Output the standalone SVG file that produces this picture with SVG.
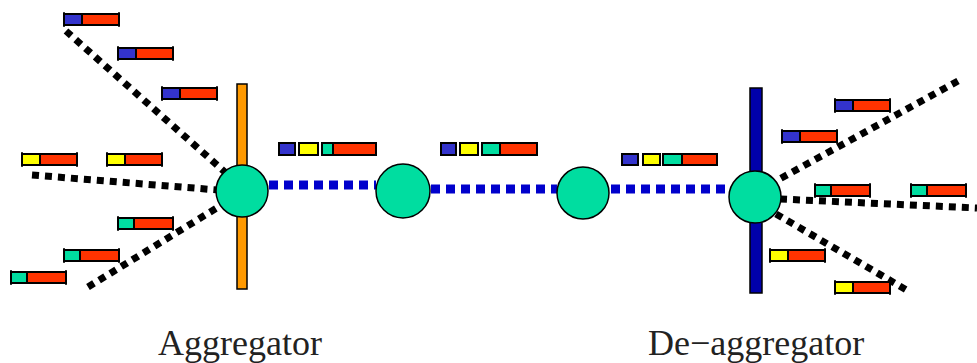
<svg xmlns="http://www.w3.org/2000/svg" xmlns:xlink="http://www.w3.org/1999/xlink" width="977" height="363" viewBox="0 0 977 363">
<style>
.blk{stroke:#000;stroke-width:7;stroke-dasharray:7 6;fill:none}
.blu{stroke:#0000cc;stroke-width:9;stroke-dasharray:9 6;fill:none}
.node{fill:#00dda0;stroke:#000;stroke-width:1.5}
.red{fill:#ff3300;stroke:#000;stroke-width:2}
.hb{fill:#3333cc;stroke:#000;stroke-width:2}
.hy{fill:#ffff00;stroke:#000;stroke-width:2}
.hg{fill:#00dda0;stroke:#000;stroke-width:2}
.tick{stroke:#000;stroke-width:1.5}
.lbl{font-family:"Liberation Serif","Times New Roman",serif;font-size:36px;fill:#222}
</style>
<defs>
<g id="pB"><rect class="red" x="0" y="0" width="55" height="11"/><rect class="hb" x="0" y="0" width="18" height="11"/><path class="tick" d="M0,-2V13M55,-2V13"/></g>
<g id="pY"><rect class="red" x="0" y="0" width="55" height="11"/><rect class="hy" x="0" y="0" width="18" height="11"/><path class="tick" d="M0,-2V13M55,-2V13"/></g>
<g id="pG"><rect class="red" x="0" y="0" width="55" height="11"/><rect class="hg" x="0" y="0" width="16" height="11"/><path class="tick" d="M0,-2V13M55,-2V13"/></g>
</defs>
<g id="connectors">
<line class="blk" x1="66" y1="31" x2="226" y2="173"/>
<line class="blk" x1="32" y1="175" x2="218" y2="190"/>
<line class="blk" x1="88" y1="287" x2="220" y2="206"/>
<line class="blk" x1="958" y1="81" x2="776" y2="181"/>
<line class="blk" x1="780" y1="199" x2="977" y2="208"/>
<line class="blk" x1="776" y1="214" x2="910" y2="292"/>
<line class="blu" x1="269" y1="185" x2="376" y2="185"/>
<line class="blu" x1="431" y1="189" x2="557" y2="189"/>
<line class="blu" x1="611" y1="189" x2="729" y2="189"/>
</g>
<g id="aggregator">
<rect x="237" y="84" width="10" height="205" fill="#ff9900" stroke="#000" stroke-width="1.5"/>
<circle class="node" cx="242" cy="191" r="26"/>
</g>
<g id="router1"><circle class="node" cx="403" cy="191" r="27"/></g>
<g id="router2"><circle class="node" cx="583" cy="193" r="26"/></g>
<g id="deaggregator">
<rect x="750" y="88" width="12" height="205" fill="#0000aa" stroke="#000" stroke-width="1.5"/>
<circle class="node" cx="755" cy="197" r="26"/>
</g>
<g id="packets-left">
<use xlink:href="#pB" x="64" y="14"/>
<use xlink:href="#pB" x="118" y="48"/>
<use xlink:href="#pB" x="162" y="88"/>
<use xlink:href="#pY" x="22" y="154"/>
<use xlink:href="#pY" x="107" y="154"/>
<use xlink:href="#pG" x="118" y="218"/>
<use xlink:href="#pG" x="64" y="250"/>
<use xlink:href="#pG" x="11" y="272"/>
</g>
<g id="packets-middle">
<rect class="hb" x="279" y="143" width="16" height="12"/>
<rect class="hy" x="299" y="143" width="19" height="12"/>
<rect class="red" x="322" y="143" width="54" height="12"/>
<rect class="hg" x="322" y="143" width="11" height="12"/>
<rect class="hb" x="441" y="143" width="15" height="12"/>
<rect class="hy" x="460" y="143" width="18" height="12"/>
<rect class="red" x="482" y="143" width="55" height="12"/>
<rect class="hg" x="482" y="143" width="18" height="12"/>
<rect class="hb" x="622" y="154" width="16" height="11"/>
<rect class="hy" x="643" y="154" width="17" height="11"/>
<rect class="red" x="663" y="154" width="54" height="11"/>
<rect class="hg" x="663" y="154" width="19" height="11"/>
</g>
<g id="packets-right">
<use xlink:href="#pB" x="835" y="100"/>
<use xlink:href="#pB" x="782" y="131"/>
<use xlink:href="#pG" x="815" y="185"/>
<use xlink:href="#pG" x="911" y="185"/>
<use xlink:href="#pY" x="770" y="250"/>
<use xlink:href="#pY" x="835" y="282"/>
</g>
<g id="labels">
<text class="lbl" x="158" y="355">Aggregator</text>
<text class="lbl" x="648" y="355">De−aggregator</text>
</g>
</svg>
